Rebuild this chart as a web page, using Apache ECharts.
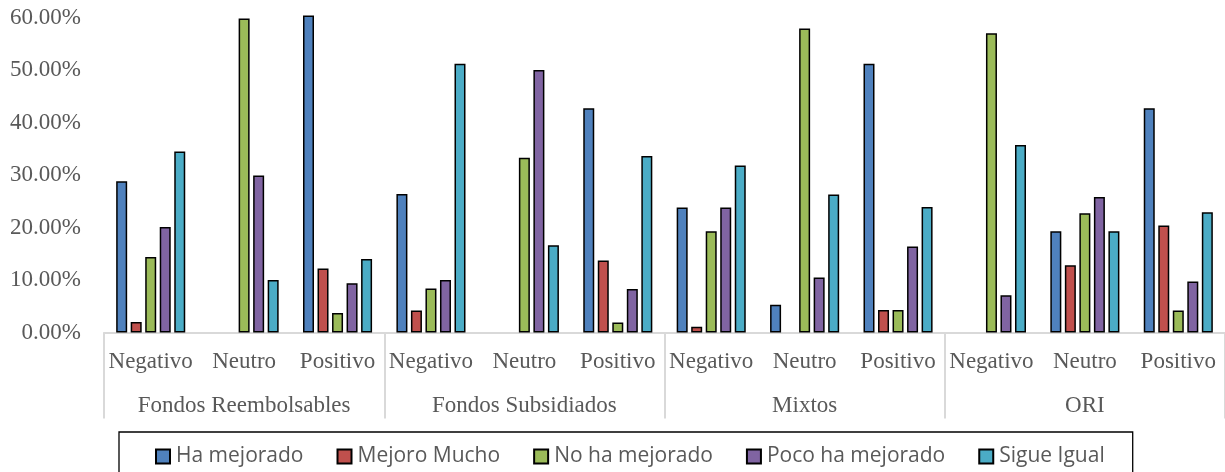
<!DOCTYPE html>
<html>
<head>
<meta charset="utf-8">
<style>
  html, body { margin: 0; padding: 0; background: #ffffff; }
  #chart { width: 1225px; height: 472px; }
</style>
<script src="https://cdn.jsdelivr.net/npm/echarts@6/dist/echarts.min.js"></script>
</head>
<body>
<div id="chart"></div>
<script>
const categories = ['Negativo', 'Neutro', 'Positivo', 'Negativo', 'Neutro', 'Positivo',
                    'Negativo', 'Neutro', 'Positivo', 'Negativo', 'Neutro', 'Positivo'];
const groups = ['Fondos Reembolsables', 'Fondos Subsidiados', 'Mixtos', 'ORI'];
const seriesNames = ['Ha mejorado', 'Mejoro Mucho', 'No ha mejorado', 'Poco ha mejorado', 'Sigue Igual'];
const haMejorado     = [0.288, null, 0.604, 0.264, null, 0.427, 0.238, 0.053, 0.512, null, 0.193, 0.427];
const mejoroMucho    = [0.020, null, 0.122, 0.042, null, 0.137, 0.011, null, 0.043, null, 0.128, 0.204];
const noHaMejorado   = [0.144, 0.598, 0.037, 0.084, 0.333, 0.019, 0.193, 0.579, 0.043, 0.570, 0.227, 0.042];
const pocoHaMejorado = [0.201, 0.299, 0.094, 0.100, 0.500, 0.083, 0.238, 0.105, 0.164, 0.071, 0.258, 0.097];
const sigueIgual     = [0.345, 0.100, 0.140, 0.512, 0.166, 0.336, 0.318, 0.263, 0.239, 0.357, 0.193, 0.229];
const yTicks = { min: 0, max: 0.6, interval: 0.1 };

const seriesData = [haMejorado, mejoroMucho, noHaMejorado, pocoHaMejorado, sigueIgual];
const colors = ['#4F81BD', '#C0504D', '#9BBB59', '#8064A2', '#4BACC6'];
const serif = '"Liberation Serif", "DejaVu Serif", serif';

const chart = echarts.init(document.getElementById('chart'), null, { renderer: 'canvas' });
chart.setOption({
  backgroundColor: '#ffffff',
  animation: false,
  grid: { left: 104, top: 17.5, height: 315, width: 1122, containLabel: false },
  legend: {
    data: seriesNames,
    left: 119,
    top: 432,
    orient: 'horizontal',
    itemWidth: 14,
    itemHeight: 14,
    itemGap: 33,
    padding: [14, 28, 30, 36],
    borderColor: '#000000',
    borderWidth: 1.3,
    icon: 'rect',
    textStyle: { fontFamily: '"Open Sans", "Noto Sans", sans-serif', fontSize: 21, color: '#595959', padding: [0, 0, 0, 1] }
  },
  xAxis: [
    {
      type: 'category',
      data: categories,
      position: 'bottom',
      axisLine: { show: true, lineStyle: { color: '#d9d9d9', width: 2 } },
      axisTick: { show: false },
      axisLabel: { fontFamily: serif, fontSize: 23, color: '#595959', margin: 18, interval: 0 },
      splitLine: { show: false }
    },
    {
      type: 'category',
      data: groups,
      position: 'bottom',
      gridIndex: 0,
      axisLine: { show: false },
      axisTick: { show: true, length: 86, lineStyle: { color: '#d9d9d9', width: 2 } },
      axisLabel: { fontFamily: serif, fontSize: 23, color: '#595959', margin: 62, interval: 0 },
      splitLine: { show: false }
    }
  ],
  yAxis: {
    type: 'value',
    min: yTicks.min,
    max: yTicks.max,
    interval: yTicks.interval,
    axisLine: { show: false },
    axisTick: { show: false },
    splitLine: { show: false },
    axisLabel: {
      fontFamily: serif, fontSize: 23, color: '#595959', margin: 23,
      formatter: v => (v * 100).toFixed(2) + '%'
    }
  },
  series: seriesNames.map((name, i) => ({
    name: name,
    type: 'bar',
    xAxisIndex: 0,
    data: seriesData[i],
    barWidth: 11,
    barGap: '32%',
    clip: false,
    itemStyle: { color: colors[i], borderColor: '#000000', borderWidth: 1.5 }
  }))
});
</script>
</body>
</html>
